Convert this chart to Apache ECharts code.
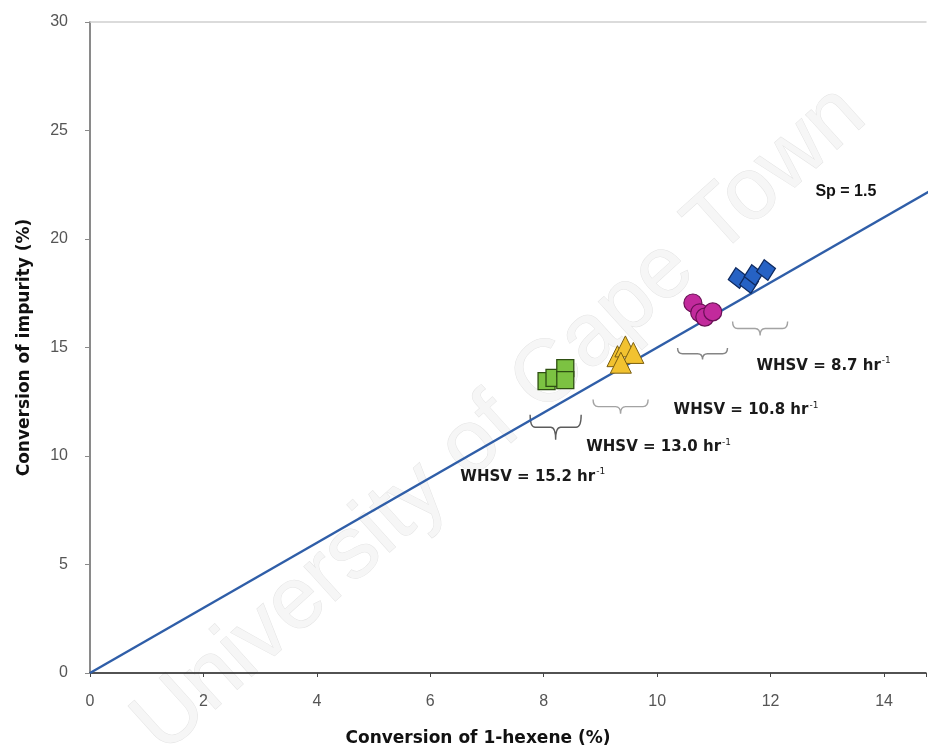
<!DOCTYPE html>
<html><head><meta charset="utf-8">
<script src="https://cdn.jsdelivr.net/npm/echarts@6/dist/echarts.min.js"></script>
<style>html,body{margin:0;padding:0;background:#fff}#c{width:929px;height:753px}</style>
</head><body><div id="c"></div>
<script>
// ---- data ----
const xTicks = [0, 2, 4, 6, 8, 10, 12, 14];
const yTicks = [0, 5, 10, 15, 20, 25, 30];
const lineX = [0, 15];
const lineY = [0, 22.5];
const greenX = [8.05, 8.19, 8.38, 8.38];
const greenY = [13.45, 13.6, 14.05, 13.5];
const yellowX = [9.3, 9.44, 9.58, 9.36];
const yellowY = [14.6, 15.05, 14.75, 14.3];
const magentaX = [10.63, 10.75, 10.84, 10.98];
const magentaY = [17.05, 16.6, 16.4, 16.64];
const blueX = [11.42, 11.62, 11.7, 11.92];
const blueY = [18.2, 17.97, 18.34, 18.57];
const labelTexts = ['WHSV = 15.2 hr', 'WHSV = 13.0 hr', 'WHSV = 10.8 hr', 'WHSV = 8.7 hr'];
const labelX = [6.53, 8.75, 10.29, 11.75];
const labelY = [9.03, 10.4, 12.1, 14.15];
const braceX1 = [7.76, 8.87, 10.36, 11.33];
const braceX2 = [8.66, 9.84, 11.24, 12.3];
const braceTop = [11.9, 12.6, 14.98, 16.2];
const braceTip = [10.75, 11.95, 14.45, 15.55];
const braceAlpha = [0.8, 0.45, 0.6, 0.45];
const spText = 'Sp = 1.5';
const spPos = [12.79, 22.2];

const zip = (a, b) => a.map((v, i) => [v, b[i]]);
const FONT = '"Liberation Sans", Arial, sans-serif';
const WFONT = '"DejaVu Sans", sans-serif';

const chart = echarts.init(document.getElementById('c'));
const option = {
  animation: false,
  backgroundColor: '#fff',
  graphic: [{
    type: 'text', z: -10, x: 500, y: 420, rotation: 42 * Math.PI / 180,
    style: {
      text: 'University of Cape Town',
      font: '88px "Liberation Sans", Arial, sans-serif',
      fill: '#f6f6f6', stroke: '#e4e4e4', lineWidth: 1,
      textAlign: 'center', textVerticalAlign: 'middle'
    }
  }],
  grid: { left: 90, top: 22, right: 0, bottom: 80 },
  xAxis: [{
    type: 'value', min: 0, max: 14.74, interval: 2,
    name: 'Conversion of 1-hexene (%)', nameLocation: 'middle', nameGap: 57,
    nameTextStyle: { fontFamily: WFONT, fontSize: 17, fontWeight: 'bold', color: '#111', padding: [0, 60, 0, 0] },
    axisLine: { lineStyle: { color: '#1a1a1a', width: 1.5 } },
    axisTick: { show: true, length: 4, lineStyle: { color: '#444' } },
    axisLabel: { margin: 21, fontSize: 16, color: '#555', fontFamily: FONT,
      formatter: v => (xTicks.indexOf(v) >= 0 ? String(v) : '') },
    splitLine: { show: false }
  }, {
    type: 'value', position: 'top', min: 0, max: 14.74,
    axisLine: { show: true, lineStyle: { color: '#cfcfcf', width: 1.5 } },
    axisTick: { show: false }, axisLabel: { show: false }, splitLine: { show: false }
  }],
  yAxis: {
    type: 'value', min: 0, max: 30, interval: 5,
    name: 'Conversion of impurity (%)', nameLocation: 'middle', nameGap: 57,
    nameTextStyle: { fontFamily: WFONT, fontSize: 17, fontWeight: 'bold', color: '#111' },
    axisLine: { show: true, lineStyle: { color: '#8a8a8a', width: 2 } },
    axisTick: { show: true, length: 5, lineStyle: { color: '#8a8a8a' } },
    axisLabel: { margin: 22, fontSize: 16, color: '#555', fontFamily: FONT,
      formatter: v => (yTicks.indexOf(v) >= 0 ? String(v) : '') },
    splitLine: { show: false }
  },
  series: [
    {
      type: 'line', data: zip(lineX, lineY), showSymbol: false, clip: true,
      lineStyle: { color: '#2f5ea8', width: 2.4 }, z: 3
    },
    {
      type: 'custom', z: 2,
      data: braceX1.map((v, i) => [v, braceX2[i], braceTop[i], braceTip[i], braceAlpha[i]]),
      renderItem: (params, api) => {
        const x1 = api.value(0), x2 = api.value(1), yt = api.value(2), yp = api.value(3);
        const a = api.coord([x1, yt]), b = api.coord([x2, yt]);
        const tip = api.coord([(x1 + x2) / 2, yp]);
        const ym = (a[1] + tip[1]) / 2, xc = tip[0], r = 5;
        const d = `M${a[0]},${a[1]} Q${a[0]},${ym} ${a[0] + r},${ym} L${xc - r},${ym} Q${xc},${ym} ${xc},${tip[1]} Q${xc},${ym} ${xc + r},${ym} L${b[0] - r},${ym} Q${b[0]},${ym} ${b[0]},${b[1]}`;
        return { type: 'path', shape: { pathData: d }, style: { fill: 'none', stroke: '#333', lineWidth: 1.4, opacity: api.value(4) } };
      }
    },
    {
      type: 'scatter', symbol: 'rect', symbolSize: 17, data: zip(greenX, greenY), z: 5,
      itemStyle: { color: '#7cc242', borderColor: '#2e4f12', borderWidth: 1.3, opacity: 1 }
    },
    {
      type: 'scatter', symbol: 'triangle', symbolSize: 21, data: zip(yellowX, yellowY), z: 5,
      itemStyle: { color: '#f2c230', borderColor: '#7a5e10', borderWidth: 1, opacity: 1 }
    },
    {
      type: 'scatter', symbol: 'circle', symbolSize: 18, data: zip(magentaX, magentaY), z: 5,
      itemStyle: { color: '#c22a9c', borderColor: '#6a0f55', borderWidth: 1.2, opacity: 1 }
    },
    {
      type: 'scatter', symbol: 'diamond', symbolSize: [19, 21], data: zip(blueX, blueY), z: 5,
      symbolRotate: 10,
      itemStyle: { color: '#2662c4', borderColor: '#0e2a60', borderWidth: 1.3, opacity: 1 }
    },
    {
      type: 'scatter', symbolSize: 0, z: 6, silent: true, itemStyle: { opacity: 1 },
      data: labelX.map((v, i) => ({ value: [v, labelY[i]], name: labelTexts[i] })),
      label: {
        show: true, position: 'right', distance: 0,
        formatter: p => `{a|${p.name}}{s|-1}`,
        rich: {
          a: { fontFamily: WFONT, fontSize: 15, fontWeight: 'bold', color: '#1a1a1a' },
          s: { fontFamily: WFONT, fontSize: 9, color: '#1a1a1a', padding: [0, 0, 10, 1] }
        }
      }
    },
    {
      type: 'scatter', symbolSize: 0, z: 6, silent: true, itemStyle: { opacity: 1 },
      data: [{ value: spPos, name: spText }],
      label: { show: true, position: 'right', distance: 0, formatter: p => p.name,
        fontFamily: FONT, fontSize: 16, fontWeight: 'bold', color: '#111' }
    }
  ]
};
chart.setOption(option);
</script></body></html>
